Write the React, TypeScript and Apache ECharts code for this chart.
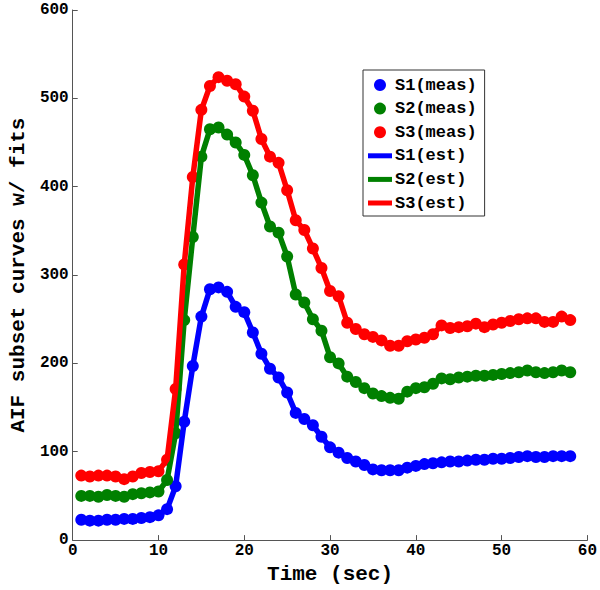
import React, { useEffect, useRef } from "react";
import * as echarts from "echarts";

const timeSec = [
  1, 2, 3, 4, 5, 6, 7, 8, 9, 10, 11, 12, 13, 14, 15, 16, 17, 18, 19, 20,
  21, 22, 23, 24, 25, 26, 27, 28, 29, 30, 31, 32, 33, 34, 35, 36, 37, 38, 39, 40,
  41, 42, 43, 44, 45, 46, 47, 48, 49, 50, 51, 52, 53, 54, 55, 56, 57, 58,
];

const s1 = [
  23, 22, 22, 23, 23, 24, 24, 25, 26, 28,
  35, 61, 134, 197, 253, 284, 286, 281, 264, 258,
  235, 211, 194, 184, 167, 144, 137, 130, 117, 105,
  99, 93, 89, 85, 80, 79, 79, 79, 82, 84,
  86, 87, 88, 89, 89, 90, 91, 91, 92, 92,
  93, 94, 95, 94, 94, 95, 95, 95,
];

const s2 = [
  50, 50, 49, 51, 50, 49, 52, 53, 54, 55,
  68, 121, 249, 343, 434, 465, 467, 459, 450, 436,
  413, 382, 355, 348, 321, 278, 269, 250, 237, 207,
  200, 185, 179, 172, 166, 163, 161, 160, 168, 172,
  173, 177, 183, 182, 184, 185, 186, 186, 187, 188,
  189, 190, 192, 190, 189, 190, 192, 190,
];

const s3 = [
  73, 72, 73, 73, 72, 69, 72, 76, 77, 78,
  91, 171, 312, 411, 487, 514, 524, 520, 516, 502,
  486, 454, 434, 427, 396, 362, 351, 330, 308, 282,
  276, 246, 239, 233, 230, 226, 220, 220, 225, 227,
  229, 233, 243, 240, 241, 242, 245, 241, 244, 246,
  248, 250, 251, 251, 247, 247, 253, 249,
];

const seriesNames = ["S1", "S2", "S3"];
const seriesColors = ["#0000FF", "#008000", "#FF0000"];
const seriesValues = [s1, s2, s3];

const xTitle = "Time (sec)";
const yTitle = "AIF subset curves w/ fits";

const FONT = "'Liberation Mono', 'Courier New', monospace";

export default function App() {
  const ref = useRef<HTMLDivElement>(null);

  useEffect(() => {
    if (!ref.current) return;
    const chart = echarts.init(ref.current, undefined, { renderer: "svg" });

    const pairs = (vals: number[]) => timeSec.map((t, i) => [t, vals[i]]);

    const measSeries = seriesValues.map((vals, i) => ({
      name: `${seriesNames[i]}(meas)`,
      type: "scatter",
      data: pairs(vals),
      symbol: "circle",
      symbolSize: 12,
      itemStyle: { color: seriesColors[i], opacity: 1 },
      z: 2,
    }));
    const estSeries = seriesValues.map((vals, i) => ({
      name: `${seriesNames[i]}(est)`,
      type: "line",
      data: pairs(vals),
      showSymbol: false,
      symbol: "none",
      color: seriesColors[i],
      lineStyle: { color: seriesColors[i], width: 5.5 },
      z: 3,
    }));

    const axisCommon = {
      axisLine: { show: true, lineStyle: { color: "#555", width: 1 } },
      axisTick: { show: true, inside: true, length: 5, lineStyle: { color: "#555" } },
      splitLine: { show: false },
      axisLabel: {
        color: "#000",
        fontFamily: FONT,
        fontWeight: "bold",
        fontSize: 16,
      },
      nameLocation: "middle",
      nameTextStyle: {
        color: "#000",
        fontFamily: FONT,
        fontWeight: "bold",
        fontSize: 21,
      },
    };

    chart.setOption({
      animation: false,
      backgroundColor: "#fff",
      grid: { left: 65, right: 8, top: 10, bottom: 45, containLabel: false },
      xAxis: {
        type: "value",
        min: 0,
        max: 60,
        interval: 10,
        name: xTitle,
        nameGap: 18,
        ...axisCommon,
        axisLabel: { ...axisCommon.axisLabel, margin: 3 },
      },
      yAxis: {
        type: "value",
        min: 0,
        max: 600,
        interval: 100,
        name: yTitle,
        nameGap: 36,
        ...axisCommon,
        axisLabel: { ...axisCommon.axisLabel, margin: 4 },
      },
      legend: {
        orient: "vertical",
        left: 363,
        top: 70,
        padding: [6, 8, 4, 5],
        itemGap: 5.6,
        itemWidth: 24,
        itemHeight: 12,
        borderColor: "#333",
        borderWidth: 1,
        backgroundColor: "#fff",
        itemStyle: { borderWidth: 0 },
        textStyle: {
          color: "#000",
          fontFamily: FONT,
          fontWeight: "bold",
          fontSize: 17,
          lineHeight: 18,
          padding: [0, 0, 0, -2],
        },
        data: [
          ...seriesNames.map((n) => ({ name: `${n}(meas)`, icon: "circle" })),
          ...seriesNames.map((n) => ({
            name: `${n}(est)`,
            icon: "path://M0,0L24,0L24,5L0,5Z",
          })),
        ],
      },
      series: [...measSeries, ...estSeries],
    });

    return () => chart.dispose();
  }, []);

  return (
    <div
      ref={ref}
      style={{ position: "absolute", left: 0, top: 0, width: 600, height: 590 }}
    />
  );
}
